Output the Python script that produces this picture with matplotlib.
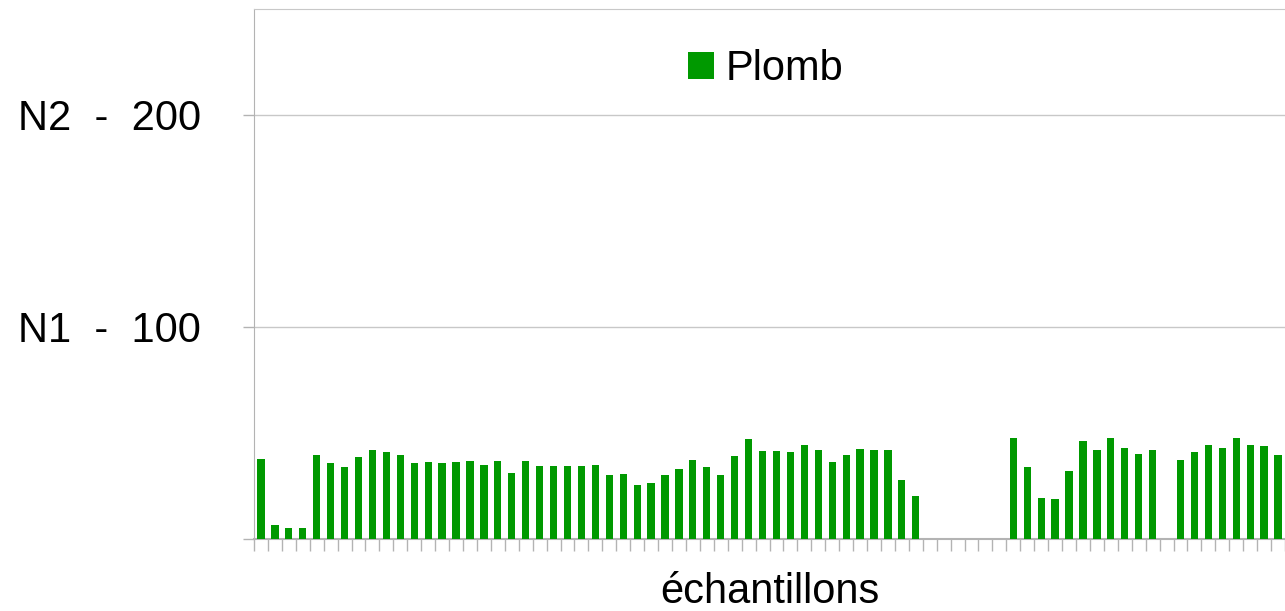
import numpy as np
import matplotlib
matplotlib.use("Agg")
import matplotlib.pyplot as plt

plt.rcParams['font.family'] = ['Liberation Sans', 'DejaVu Sans']

# lead values per sample (nan = no measurement)
plomb = [37.6, 6.6, 5.2, 5.2, 39.5, 35.8, 33.9, 38.6, 41.9, 40.9,
         39.5, 35.8, 36.2, 35.8, 36.2, 36.7, 34.8, 36.7, 31.1, 36.7,
         34.4, 34.4, 34.4, 34.4, 34.8, 30.1, 30.6, 25.4, 26.4, 30.1,
         32.9, 37.2, 33.9, 30.1, 39.1, 47.1, 41.4, 41.4, 40.9, 44.2,
         41.9, 36.2, 39.5, 42.4, 41.9, 41.9, 27.8, 20.2,
         np.nan, np.nan, np.nan, np.nan, np.nan, np.nan,
         47.5, 33.9, 19.3, 18.8, 32.0, 46.1, 41.9, 47.5, 42.8, 40.0,
         41.9, np.nan, 37.2, 40.9, 44.2, 42.8, 47.5, 44.2, 43.8, 39.5]
ytick_vals = [0, 100, 200]
ytick_labels = ['', 'N1  -  100', 'N2  -  200']

fig = plt.figure(figsize=(12.85, 6.11), dpi=100)
ax = fig.add_axes([254 / 1285, 72 / 611, 1031 / 1285, 530 / 611])

x = np.arange(len(plomb))
ax.bar(x, plomb, width=0.52, color='#009900', label='Plomb', zorder=3)

ax.set_xlim(-0.5, len(plomb) - 0.5)
ax.set_ylim(0, 250)

ax.set_yticks(ytick_vals)
ax.set_yticklabels(ytick_labels, fontsize=30)
ax.tick_params(axis='y', length=8, width=1, color='#b3b3b3', pad=30)
ax.yaxis.grid(True, color='#c8c8c8', linewidth=1, zorder=0)

ax.set_xticks(np.arange(len(plomb) + 1) - 0.5)
ax.set_xticklabels([])
ax.tick_params(axis='x', length=8.5, width=1, color='#b3b3b3')

ax.spines['right'].set_visible(False)
ax.spines['top'].set_color('#c8c8c8')
ax.spines['left'].set_color('#b3b3b3')
ax.spines['bottom'].set_color('#b3b3b3')
ax.spines['bottom'].set_linewidth(1.5)

ax.set_xlabel('échantillons', fontsize=30, labelpad=12)

ax.legend(loc='upper center', bbox_to_anchor=(0.496, 0.995), frameon=False,
          fontsize=30, handlelength=0.62, handleheight=0.62, handletextpad=0.28)

fig.savefig('out.png', dpi=100)
